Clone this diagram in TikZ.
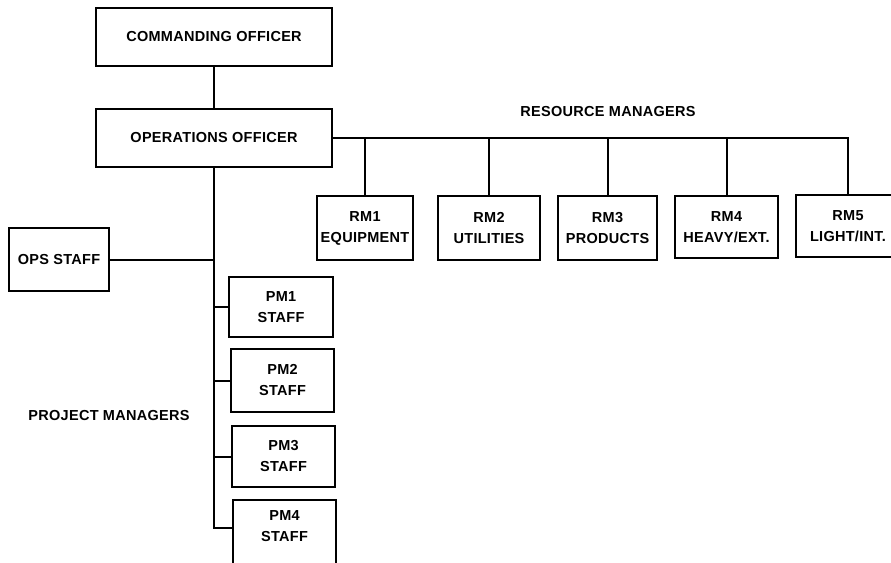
\documentclass[tikz,border=0pt]{standalone}
\usepackage{fontspec}
\setmainfont{Liberation Sans}[LetterSpace=2]
\begin{document}
\begin{tikzpicture}[x=1pt,y=-1pt,
  every node/.style={font=\fontsize{14.5}{21}\selectfont\bfseries},
  orgbox/.style={draw, line width=1.8pt, inner sep=0pt, align=center},
  conn/.style={line width=2pt},
  caption/.style={inner sep=0pt}]
\useasboundingbox (0,0) rectangle (891,562);
\clip (0,0) rectangle (891,562);
% top
\node[orgbox, minimum width=236pt, minimum height=58pt] (co) at (214,37) {COMMANDING OFFICER};
\node[orgbox, minimum width=236pt, minimum height=58pt] (oo) at (214,138) {OPERATIONS OFFICER};
\node[orgbox, minimum width=100pt, minimum height=63pt] (ops) at (59,259.5) {OPS STAFF};
% project managers
\node[orgbox, minimum width=104pt, minimum height=60pt] (pm1) at (281,307) {PM1\\STAFF};
\node[orgbox, minimum width=103pt, minimum height=63pt] (pm2) at (282.5,380.5) {PM2\\STAFF};
\node[orgbox, minimum width=103pt, minimum height=61pt] (pm3) at (283.5,456.5) {PM3\\STAFF};
\node[orgbox, minimum width=103pt, minimum height=66pt,
  label={[inner sep=0pt, align=center, yshift=7pt]center:PM4\\STAFF}] (pm4) at (284.5,533) {};
% resource managers
\node[orgbox, minimum width=96pt, minimum height=64pt] (rm1) at (365,228) {RM1\\EQUIPMENT};
\node[orgbox, minimum width=102pt, minimum height=64pt] (rm2) at (489,228) {RM2\\UTILITIES};
\node[orgbox, minimum width=99pt, minimum height=64pt] (rm3) at (607.5,228) {RM3\\PRODUCTS};
\node[orgbox, minimum width=103pt, minimum height=62pt] (rm4) at (726.5,227) {RM4\\HEAVY/EXT.};
\node[orgbox, minimum width=104pt, minimum height=62pt] (rm5) at (848,226) {RM5\\LIGHT/INT.};
% captions
\node[caption] (rescap) at (608,112) {RESOURCE MANAGERS};
\node[caption] (projcap) at (109,416) {PROJECT MANAGERS};
% connectors
\draw[conn] (co) -- (oo);
\draw[conn] (oo.east) -- (oo.east -| rm5.north) -- (rm5.north);
\foreach \r in {rm1,rm2,rm3,rm4}
  \draw[conn] (oo.east -| \r.north) -- (\r.north);
\coordinate (pm4c) at ([yshift=5pt]pm4.west);
\draw[conn] (oo.south) -- (oo.south |- pm4c) -- (pm4c);
\draw[conn] (ops.east) -- (ops.east -| oo.south);
\foreach \p in {pm1,pm2,pm3}
  \draw[conn] (oo.south |- \p.west) -- (\p.west);
\end{tikzpicture}
\end{document}
